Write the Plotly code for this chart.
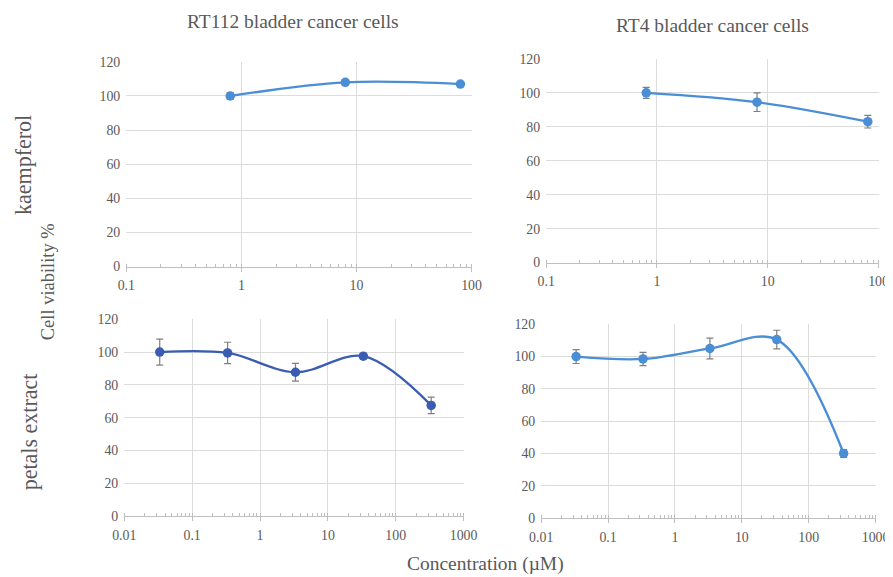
import plotly.graph_objects as go

# ---- data ----
conc_kaemp = [0.8, 8, 80]
rt112_kaemp = [100, 108, 107]
rt112_kaemp_err = [2.0, 1.5, 1.0]
rt4_kaemp = [100, 94.5, 83]
rt4_kaemp_err = [3.2, 5.5, 3.7]

conc_petal = [0.0333, 0.333, 3.33, 33.3, 333]
rt112_petal = [100, 99.5, 87.7, 97.5, 67.5]
rt112_petal_err = [7.9, 6.5, 5.4, 1.6, 5.0]
rt4_petal = [100, 98.5, 105, 110.5, 40]
rt4_petal_err = [4.3, 4.1, 6.4, 5.8, 2.4]

top_ticks = [0.1, 1, 10, 100]
top_ticktext = ["0.1", "1", "10", "100"]
bot_ticks = [0.01, 0.1, 1, 10, 100, 1000]
bot_ticktext = ["0.01", "0.1", "1", "10", "100", "1000"]

col_titles = ["RT112 bladder cancer cells", "RT4 bladder cancer cells"]
row_titles = ["kaempferol", "petals extract"]
y_title = "Cell viability %"
x_title = "Concentration (µM)"

LIGHT = "#4A8ED6"
DARK = "#3A5DB3"
FONT = "Liberation Serif"
GRAY = "#595959"

W, H = 893, 577
SX, OX = 0.9757, 9.4   # observed page scale / offset
SY, OY = 0.98, 5.0
OFF = 8
def px_x(t): return (t - OX) / SX - OFF
def px_y(t): return (t - OY) / SY - OFF
def xd(a, b): return [px_x(a) / W, px_x(b) / W]
def yd(top, bot): return [1 - px_y(bot) / H, 1 - px_y(top) / H]
FS = 1 / SX

fig = go.Figure()

def add(x, y, err, color, xa, ya):
    fig.add_trace(go.Scatter(
        x=x, y=y, mode="lines+markers",
        line=dict(color=color, width=2.3, shape="spline", smoothing=1),
        marker=dict(color=color, size=9.5),
        error_y=dict(type="data", array=err, color="#7F7F7F", thickness=1.2, width=3.5),
        xaxis=xa, yaxis=ya, showlegend=False, hoverinfo="x+y"))

add(conc_kaemp, rt112_kaemp, rt112_kaemp_err, LIGHT, "x", "y")
add(conc_kaemp, rt4_kaemp, rt4_kaemp_err, LIGHT, "x2", "y2")
add(conc_petal, rt112_petal, rt112_petal_err, DARK, "x3", "y3")
add(conc_petal, rt4_petal, rt4_petal_err, LIGHT, "x4", "y4")

TICK = 13.5 * FS

def xax(dom, anchor, rng, tv, tt):
    return dict(domain=dom, anchor=anchor, type="log", range=rng,
                tickmode="array", tickvals=tv, ticktext=tt,
                showgrid=True, gridcolor="#DCDCDC", gridwidth=1,
                showline=True, linecolor="#BFBFBF", linewidth=1,
                ticks="outside", ticklen=4, tickcolor="#BFBFBF",
                ticklabelstandoff=2,
                minor=dict(ticks="inside", ticklen=3, tickcolor="#BFBFBF", dtick="D1", showgrid=False),
                tickfont=dict(family=FONT, size=TICK, color=GRAY),
                zeroline=False, fixedrange=True)

def yax(dom, anchor):
    return dict(domain=dom, anchor=anchor, range=[0, 120], dtick=20,
                showgrid=True, gridcolor="#DCDCDC", gridwidth=1,
                showline=False, zeroline=False, ticks="",
                ticklabelstandoff=5,
                tickfont=dict(family=FONT, size=TICK, color=GRAY), fixedrange=True)

fig.update_layout(
    width=W, height=H, margin=dict(l=0, r=0, t=0, b=0),
    paper_bgcolor="white", plot_bgcolor="white",
    xaxis=xax(xd(124, 471), "y", [-1, 2], top_ticks, top_ticktext),
    yaxis=yax(yd(60, 266), "x"),
    xaxis2=xax(xd(546, 880), "y2", [-1, 2], top_ticks, top_ticktext),
    yaxis2=yax(yd(57, 262), "x2"),
    xaxis3=xax(xd(122, 463), "y3", [-2, 3], bot_ticks, bot_ticktext),
    yaxis3=yax(yd(319, 517), "x3"),
    xaxis4=xax(xd(541, 877), "y4", [-2, 3], bot_ticks, bot_ticktext),
    yaxis4=yax(yd(324, 519), "x4"),
)

def ann(text, x, y, size, angle=0):
    fig.add_annotation(text=text, x=px_x(x) / W, y=1 - px_y(y) / H, xref="paper", yref="paper",
                       showarrow=False, textangle=angle, xanchor="center", yanchor="middle",
                       font=dict(family=FONT, size=size * FS, color=GRAY))

ann(col_titles[0], 292, 19, 19)
ann(col_titles[1], 713, 23, 19)
ann(row_titles[0], 20, 164, 21.5, -90)
ann(row_titles[1], 27, 432, 21.5, -90)
ann(y_title, 45, 281, 18, -90)
ann(x_title, 485, 565, 19)

fig.write_html("out.html")
